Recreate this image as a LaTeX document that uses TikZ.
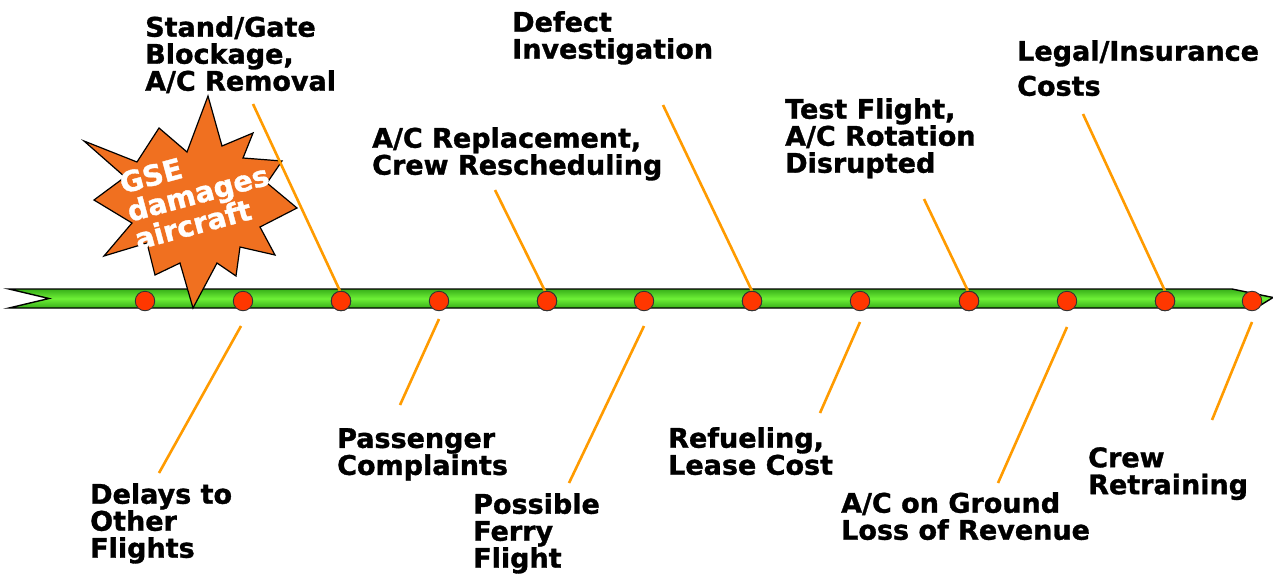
\documentclass[tikz,border=0pt]{standalone}
\usepackage{fontspec}
\setmainfont{DejaVu Sans}
\newfontfamily\heavyfont{DejaVu Sans Bold}[FakeBold=1.2]
\definecolor{arrowmid}{RGB}{110,240,55}
\definecolor{arrowedge}{RGB}{55,175,25}
\definecolor{dotred}{RGB}{255,55,0}
\definecolor{leadorange}{RGB}{255,155,0}
\definecolor{starorange}{RGB}{240,112,32}
\tikzset{
  dotnode/.style={circle,draw=black!80,line width=0.9pt,fill=dotred,minimum size=19.5pt,inner sep=0pt},
  lbl/.style={anchor=north west,inner sep=0pt,align=left,font=\fontsize{27}{27}\selectfont\heavyfont},
  startxt/.style={anchor=center,inner sep=0pt,align=left,rotate=15,font=\fontsize{28.5}{29}\selectfont\heavyfont},
  lead/.style={draw=leadorange,line width=2.6pt},
}
\begin{document}
\begin{tikzpicture}[x=1pt,y=-1pt]
\useasboundingbox[fill=white] (0,0) rectangle (1273,573);
% arrow body
\path[draw=black,line width=1.4pt,top color=arrowedge,bottom color=arrowedge,middle color=arrowmid]
  (9,289) -- (1232,289) -- (1273,297.5) -- (1256,308) -- (9,308) -- (49,298.5) -- cycle;
% star
\path[draw=black,line width=1.2pt,fill=starorange]
  (208,96) -- (222,146) -- (253,133) -- (243,158) -- (282,161) -- (267,183) --
  (297,208) -- (260,227) -- (275,255) -- (240,247) -- (236,276) -- (217,263) --
  (193,308) -- (180,263) -- (155,275) -- (147,243) -- (104,256) -- (132,223) --
  (94,200) -- (125,177) -- (84,141) -- (137,162) -- (159,128) -- (187,152) -- cycle;
\node[startxt,text=white] (startext) at (198,193) {GSE\\damages\\aircraft};
% dots
\foreach \n/\x in {1/145,2/243,3/341,4/439,5/547,6/644,7/752,8/860,9/969,10/1067,11/1165,12/1252}
  \node[dotnode] (d\n) at (\x,301) {};
% labels
\node[lbl] (lA) at (145,16) {Stand/Gate\\Blockage,\\A/C Removal};
\node[lbl] (lB) at (372,127) {A/C Replacement,\\Crew Rescheduling};
\node[lbl] (lC) at (512,11) {Defect\\Investigation};
\node[lbl] (lD) at (785,98) {Test Flight,\\A/C Rotation\\Disrupted};
\node[lbl] (lE) at (1017,40) {Legal/Insurance\\[8pt]Costs};
\node[lbl] (lF) at (90,483) {Delays to\\Other\\Flights};
\node[lbl] (lG) at (337,428) {Passenger\\Complaints};
\node[lbl] (lH) at (473,493) {Possible\\Ferry\\Flight};
\node[lbl] (lI) at (668,427) {Refueling,\\Lease Cost};
\node[lbl] (lJ) at (841,492) {A/C on Ground\\Loss of Revenue};
\node[lbl] (lK) at (1088,447) {Crew\\Retraining};
% lead line ends
\coordinate (cA) at (253,104);
\coordinate (cB) at (495,190);
\coordinate (cC) at (663,105);
\coordinate (cD) at (924,199);
\coordinate (cE) at (1083,114);
\coordinate (tA) at (340,291);
\coordinate (tB) at (545,291);
\coordinate (tC) at (752,291);
\coordinate (tD) at (968,291);
\coordinate (tE) at (1165,291);
\coordinate (sF) at (241,326);
\coordinate (eF) at (159,473);
\coordinate (sG) at (439,319);
\coordinate (eG) at (400,405);
\coordinate (sH) at (644,326);
\coordinate (eH) at (569,483);
\coordinate (sI) at (860,322);
\coordinate (eI) at (820,413);
\coordinate (sJ) at (1067,327);
\coordinate (eJ) at (998,483);
\coordinate (sK) at (1252,322);
\coordinate (eK) at (1212,420);
\foreach \a/\b in {cA/tA,cB/tB,cC/tC,cD/tD,cE/tE,sF/eF,sG/eG,sH/eH,sI/eI,sJ/eJ,sK/eK}
  \draw[lead] (\a) -- (\b);
% redraw dots on top of leads
\foreach \n/\x in {3/341,5/547,7/752,9/969,11/1165}
  \node[dotnode] at (\x,301) {};
\end{tikzpicture}
\end{document}
